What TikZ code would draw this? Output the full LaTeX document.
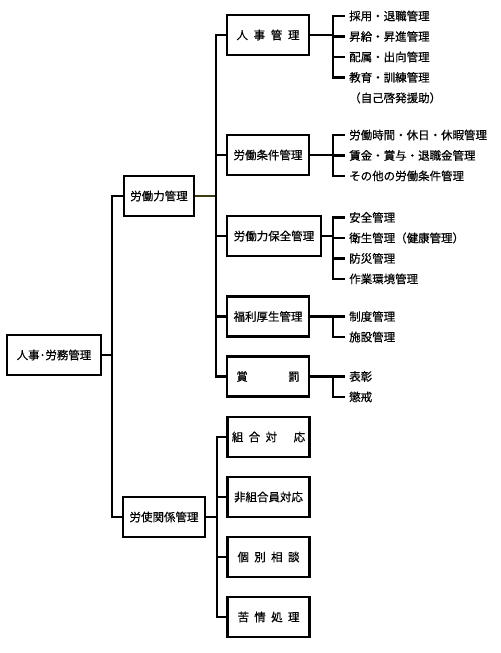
\documentclass[tikz,border=0pt]{standalone}
\usepackage{fontspec}
\setmainfont{Noto Sans CJK JP}[FakeBold=0.5]
\usepackage{xcolor}
\usepackage{tikz}
\usetikzlibrary{positioning}

\definecolor{olivelink}{RGB}{60,60,20}

\begin{document}
\begin{tikzpicture}[
    x=0.03cm, y=-0.03cm,
    node distance=0pt,
    font=\fontsize{9.8pt}{12pt}\selectfont,
    block/.style={rectangle, draw, line width=2.4pt, minimum width=2.46cm, minimum height=1.2cm, inner sep=0pt},
    item/.style={text width=4.4cm, align=left, minimum height=0.6cm, inner xsep=0.12cm, inner ysep=0pt},
    conn/.style={line width=2.4pt},
    thinconn/.style={line width=1pt}
]
\useasboundingbox (0,0) rectangle (500,653);

% Top level
\node[block, minimum width=2.82cm] (jinroumu) at (54,355) {人事･労務管理};

% Second level
\node[block, minimum width=2.1cm] (rodo) at (159,196) {労働力管理};
\node[block] (roshi) at (164,517) {労使関係管理};

% Third level (labour force)
\node[block] (jinji) at (268,35) {人\hspace{0.17cm}事\hspace{0.17cm}管\hspace{0.17cm}理};
\node[block] (joken) at (268,155) {労働条件管理};
\node[block, minimum width=2.82cm] (hozen) at (274,236) {労働力保全管理};
\node[block] (fukuri) at (268,316.5) {福利厚生管理};
\node[block] (shobatsu) at (268,376.5) {\hbox to 1.9cm{賞\hfil 罰}};

% Third level (labour relations)
\node[block] (kumiai) at (268.5,437) {組\hspace{0.16cm}合\hspace{0.16cm}対\hspace{0.5cm}応};
\node[block] (hikumiai) at (268.5,497) {非組合員対応};
\node[block] (kobetsu) at (268.5,557) {個\hspace{0.16cm}別\hspace{0.16cm}相\hspace{0.16cm}談};
\node[block] (kujo) at (268.5,617) {苦\hspace{0.16cm}情\hspace{0.16cm}処\hspace{0.16cm}理};

% Items
\node[item, anchor=west] (ji1) at (345,16) {採用・退職管理};
\node[item, below=of ji1] (ji2) {昇給・昇進管理};
\node[item, below=of ji2] (ji3) {配属・出向管理};
\node[item, below=of ji3] (ji4) {教育・訓練管理};
\node[item, below=of ji4] (ji5) {（自己啓発援助）};

\node[item, anchor=west] (jo1) at (345,135) {労働時間・休日・休暇管理};
\node[item, below=of jo1] (jo2) {賃金・賞与・退職金管理};
\node[item, below=of jo2] (jo3) {その他の労働条件管理};

\node[item, anchor=west] (ho1) at (345,217.5) {安全管理};
\node[item, below=of ho1] (ho2) {衛生管理（健康管理）};
\node[item, below=of ho2] (ho3) {防災管理};
\node[item, below=of ho3] (ho4) {作業環境管理};

\node[item, anchor=west] (fu1) at (345,316.5) {制度管理};
\node[item, below=of fu1] (fu2) {施設管理};

\node[item, anchor=west] (sh1) at (345,376.5) {表彰};
\node[item, below=of sh1] (sh2) {懲戒};

% Trunks
\coordinate (v1) at (112,0);
\coordinate (v2) at (216,0);
\coordinate (v3) at (217,0);
\coordinate (bx) at (333,0);

% Lines
\draw[conn] (jinroumu.east) -- (v1 |- jinroumu.east);
\draw[conn] (rodo.west) -| (v1 |- roshi.west) -- (roshi.west);

\draw[thinconn, olivelink] (rodo.east) -- (v2 |- rodo.east);
\draw[conn] (jinji.west) -| (v2 |- shobatsu.west) -- (shobatsu.west);
\foreach \n in {joken,hozen,fukuri}
    \draw[conn] (v2 |- \n.west) -- (\n.west);

\draw[thinconn] (roshi.east) -- (v3 |- roshi.east);
\draw[conn] (kumiai.west) -| (v3 |- kujo.west) -- (kujo.west);
\draw[thinconn, line width=1.4pt] (v3 |- hikumiai.west) -- (hikumiai.west);
\draw[conn] (v3 |- kobetsu.west) -- (kobetsu.west);

\draw[conn] (jinji.east) -- (bx |- jinji.east);
\draw[conn] (ji1.west) -| (bx |- ji4.west) -- (ji4.west);
\foreach \n in {ji2,ji3}
    \draw[conn] (bx |- \n.west) -- (\n.west);

\draw[conn] (joken.east) -- (bx |- joken.east);
\draw[conn] (jo1.west) -| (bx |- jo3.west) -- (jo3.west);
\draw[conn] (bx |- jo2.west) -- (jo2.west);

\draw[conn] (hozen.east) -- (bx |- hozen.east);
\draw[conn] (ho1.west) -| (bx |- ho4.west) -- (ho4.west);
\foreach \n in {ho2,ho3}
    \draw[conn] (bx |- \n.west) -- (\n.west);

\draw[conn] (fukuri.east) -- (fu1.west);
\draw[conn] (bx |- fu1.west) |- (fu2.west);

\draw[conn] (shobatsu.east) -- (sh1.west);
\draw[conn] (bx |- sh1.west) |- (sh2.west);

\end{tikzpicture}
\end{document}
